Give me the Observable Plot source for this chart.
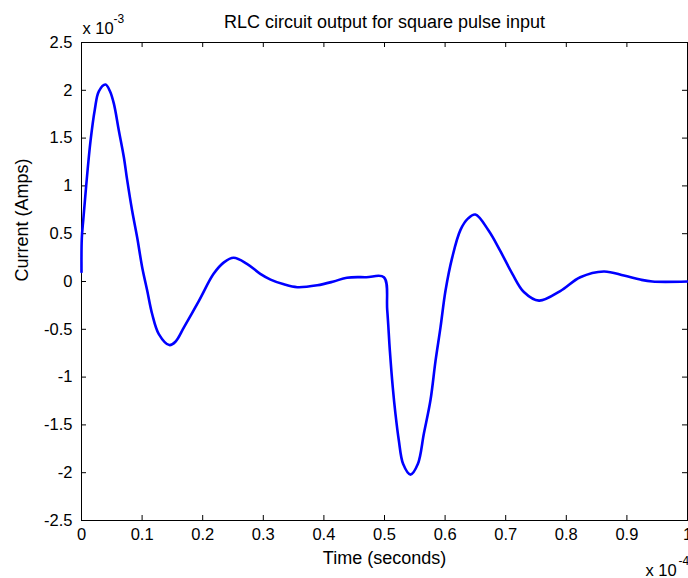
<!DOCTYPE html>
<html>
<head>
<meta charset="utf-8">
<script src="https://cdn.jsdelivr.net/npm/d3@7"></script>
<script src="https://cdn.jsdelivr.net/npm/@observablehq/plot@0.6"></script>
<style>
  html, body { margin: 0; padding: 0; background: #fff; overflow: hidden; }
</style>
</head>
<body>
<div id="chart"></div>
<script>
// Time in units of 1e-4 s, current in units of 1e-3 A
const timeValues = [
  0.000, 0.0005, 0.003, 0.0077, 0.0149, 0.0220, 0.0286, 0.0396, 0.047, 0.0534,
  0.0616, 0.0699, 0.0754, 0.0836, 0.0919, 0.1001, 0.1084, 0.1166, 0.1276, 0.1450,
  0.155, 0.169, 0.194, 0.218, 0.235, 0.251, 0.273, 0.295, 0.312, 0.334,
  0.356, 0.389, 0.416, 0.438, 0.470, 0.499, 0.5045, 0.5088, 0.5137, 0.518,
  0.5236, 0.5308, 0.5429, 0.555, 0.565, 0.5759, 0.5842, 0.5924, 0.6007, 0.6117,
  0.6254, 0.638, 0.650, 0.672, 0.691, 0.711, 0.730, 0.755, 0.790, 0.823,
  0.862, 0.895, 0.922, 0.942, 1.000
];
const currentValues = [
  0.10, 0.45, 0.65, 1.00, 1.47, 1.80, 1.99, 2.06, 1.99, 1.86,
  1.58, 1.30, 1.06, 0.74, 0.46, 0.15, -0.094, -0.34, -0.55, -0.665,
  -0.63, -0.48, -0.20, 0.08, 0.20, 0.248, 0.185, 0.08, 0.02, -0.03,
  -0.06, -0.04, 0.00, 0.04, 0.045, 0.045, -0.30, -0.72, -1.11, -1.38,
  -1.66, -1.91, -2.02, -1.91, -1.59, -1.24, -0.83, -0.48, -0.094, 0.25,
  0.54, 0.66, 0.70, 0.53, 0.32, 0.08, -0.11, -0.20, -0.10, 0.045,
  0.105, 0.063, 0.02, 0.00, 0.00
];
const xTicks = [0, 0.1, 0.2, 0.3, 0.4, 0.5, 0.6, 0.7, 0.8, 0.9, 1];
const xTickLabels = ["0", "0.1", "0.2", "0.3", "0.4", "0.5", "0.6", "0.7", "0.8", "0.9", "1"];
const yTicks = [-2.5, -2, -1.5, -1, -0.5, 0, 0.5, 1, 1.5, 2, 2.5];
const yTickLabels = ["-2.5", "-2", "-1.5", "-1", "-0.5", "0", "0.5", "1", "1.5", "2", "2.5"];
const titleText = "RLC circuit output for square pulse input";
const xLabel = "Time (seconds)";
const yLabel = "Current (Amps)";
const yExpBase = "x 10", yExp = "-3";
const xExpBase = "x 10", xExp = "-4";

const data = timeValues.map((t, i) => ({t, v: currentValues[i]}));

const W = 688, H = 578, mL = 81, mT = 42, mR = 1, mB = 58;
const plotW = W - mL - mR, plotH = H - mT - mB, tickLen = 5;
const ink = "#000";

const chart = Plot.plot({
  width: W, height: H,
  marginLeft: mL, marginTop: mT, marginRight: mR, marginBottom: mB,
  style: {fontFamily: "'Liberation Sans', Arial, sans-serif", fontSize: "16.5px", color: ink, background: "#fff"},
  x: {domain: [0, 1]},
  y: {domain: [-2.5, 2.5]},
  marks: [
    Plot.frame({stroke: ink}),
    Plot.ruleX(xTicks, {insetTop: plotH - tickLen, stroke: ink}),
    Plot.ruleX(xTicks, {insetBottom: plotH - tickLen, stroke: ink}),
    Plot.ruleY(yTicks, {insetRight: plotW - tickLen, stroke: ink}),
    Plot.ruleY(yTicks, {insetLeft: plotW - tickLen, stroke: ink}),
    Plot.axisX({ticks: xTicks, tickSize: 0, tickPadding: 8, label: null,
      tickFormat: d => xTickLabels[xTicks.indexOf(d)]}),
    Plot.axisY({ticks: yTicks, tickSize: 0, tickPadding: 9, label: null,
      tickFormat: d => yTickLabels[yTicks.indexOf(d)]}),
    Plot.line(data, {x: "t", y: "v", stroke: "#0000ff", strokeWidth: 2.6, curve: "catmull-rom"}),
    Plot.text([titleText], {frameAnchor: "top", lineAnchor: "bottom", dy: -15, fontSize: 18}),
    Plot.text([xLabel], {frameAnchor: "bottom", lineAnchor: "middle", dy: 38, fontSize: 18}),
    Plot.text([yLabel], {frameAnchor: "left", lineAnchor: "middle", rotate: -90, dx: -59, fontSize: 18}),
    Plot.text([yExpBase], {frameAnchor: "top-left", textAnchor: "start", lineAnchor: "bottom", dx: 1, dy: -9, fontSize: 16.5}),
    Plot.text([yExp], {frameAnchor: "top-left", textAnchor: "start", lineAnchor: "bottom", dx: 32, dy: -20, fontSize: 12}),
    Plot.text([xExpBase], {frameAnchor: "bottom-right", textAnchor: "start", lineAnchor: "bottom", dx: -42, dy: 55, fontSize: 16.5}),
    Plot.text([xExp], {frameAnchor: "bottom-right", textAnchor: "start", lineAnchor: "bottom", dx: -9, dy: 44, fontSize: 12})
  ]
});
document.getElementById("chart").appendChild(chart);
</script>
</body>
</html>
